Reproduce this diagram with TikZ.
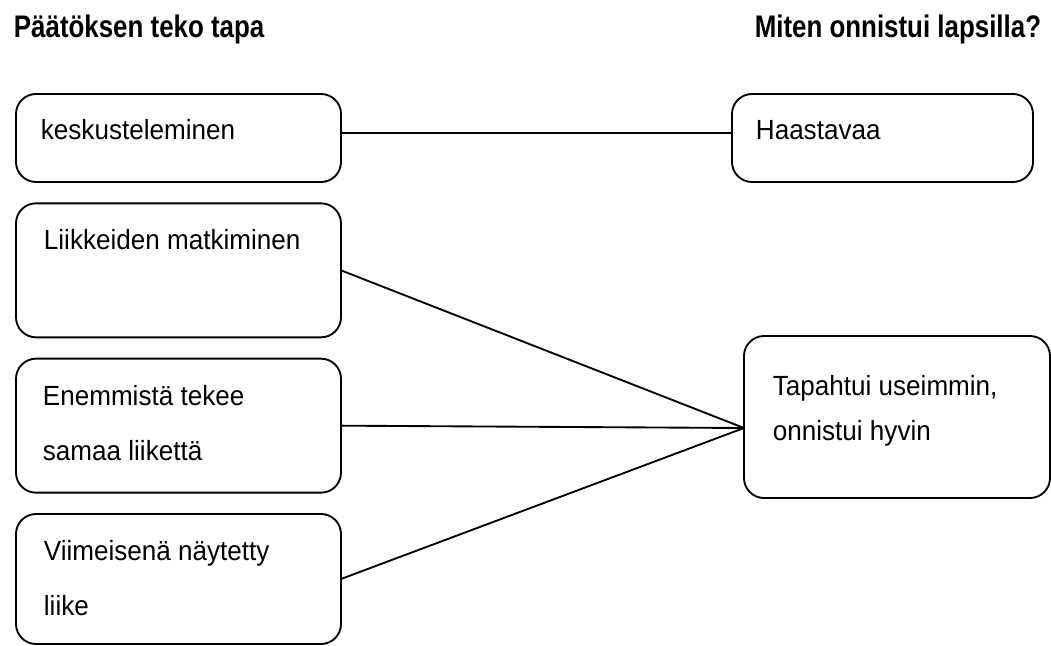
\documentclass[tikz,border=0pt]{standalone}
\usepackage{fontspec}
\setmainfont[FakeStretch=0.94]{Liberation Sans}
\newfontfamily\headfont[FakeStretch=0.83]{Liberation Sans}
\usetikzlibrary{positioning}
\tikzset{
x=0.75pt, y=-0.75pt, % one unit is one pixel of the page
every picture/.style={line width=1.4pt},
choice/.style={draw, rounded corners=15pt, minimum width=243.75pt, inner sep=0pt, outer sep=0pt, anchor=north west}, % the boxes
head/.style={font=\headfont\bfseries\fontsize{23.4pt}{28pt}\selectfont, inner sep=0pt}, % column titles
txt/.style={font=\fontsize{20.8pt}{41.25pt}\selectfont, align=left, inner sep=0pt, anchor=base west}, % text in the boxes, base is the last line
}
\begin{document}
\begin{tikzpicture}
    \useasboundingbox (0,0) rectangle (1051,646);
    \node[head, anchor=base west] (hdl) at (13,37) {Päätöksen teko tapa};
    \node[head, anchor=base east] (hdr) at (1042,37) {Miten onnistui lapsilla?};
    \node[choice, minimum height=66pt] (kes) at (16,94) {};
    \node[choice, minimum height=100.5pt, below=16pt of kes] (lii) {};
    \node[choice, minimum height=100.5pt, below=16pt of lii] (ene) {};
    \node[choice, minimum height=97.5pt, below=16pt of ene] (vii) {};
    \node[choice, minimum width=225.75pt, minimum height=66pt] (haa) at (732,94) {};
    \node[choice, minimum width=229.5pt, minimum height=121.5pt] (tap) at (744,336) {};
    \node[txt] (kest) at (40,139) {keskusteleminen};
    \node[txt] (liit) at (43,249) {Liikkeiden matkiminen};
    \node[txt] (enet) at (42,460) {Enemmistä tekee\\samaa liikettä};
    \node[txt] (viit) at (43,615) {Viimeisenä näytetty\\liike};
    \node[txt] (haat) at (755,139) {Haastavaa};
    \node[txt, font=\fontsize{20.8pt}{33.75pt}\selectfont] (tapt) at (772,440) {Tapahtui useimmin,\\onnistui hyvin};
    \coordinate (meet) at ([yshift=-8.25pt]tap.west);
    \draw ([yshift=3.75pt]kes.east) -- ([yshift=3.75pt]haa.west);
    \draw (lii.east) -- (meet);
    \draw (ene.east) -- (meet);
    \draw (vii.east) -- (meet);
\end{tikzpicture}
\end{document}
